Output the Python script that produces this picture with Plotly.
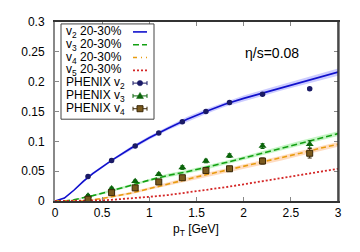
import plotly.graph_objects as go

# ---- model curves (eta/s = 0.08, 20-30%) ----
pt_model = [0.0, 0.1, 0.2, 0.3, 0.4, 0.5, 0.6, 0.8, 1.0, 1.2, 1.4, 1.6, 1.8, 2.0, 2.2, 2.4, 2.6, 2.8, 3.0]
v2_model = [0.0, 0.005, 0.018, 0.033, 0.046, 0.057, 0.068, 0.088, 0.106, 0.122, 0.137, 0.150, 0.162, 0.172, 0.181, 0.190, 0.199, 0.208, 0.216]
v2_err   = [0.0, 0.001, 0.001, 0.002, 0.002, 0.002, 0.002, 0.003, 0.003, 0.003, 0.004, 0.004, 0.004, 0.005, 0.005, 0.005, 0.006, 0.006, 0.006]
v3_model = [0.0, 0.0, 0.002, 0.005, 0.009, 0.013, 0.017, 0.026, 0.035, 0.043, 0.049, 0.056, 0.064, 0.072, 0.080, 0.088, 0.097, 0.105, 0.113]
v3_err   = [0.0, 0.0, 0.001, 0.001, 0.001, 0.002, 0.002, 0.002, 0.002, 0.003, 0.003, 0.003, 0.003, 0.003, 0.004, 0.004, 0.004, 0.004, 0.004]
v4_model = [0.0, 0.0, 0.0, 0.0, 0.002, 0.004, 0.007, 0.013, 0.021, 0.029, 0.037, 0.044, 0.051, 0.058, 0.065, 0.072, 0.080, 0.088, 0.095]
v4_err   = [0.0, 0.0, 0.0, 0.0, 0.001, 0.001, 0.002, 0.002, 0.002, 0.003, 0.003, 0.003, 0.003, 0.004, 0.004, 0.004, 0.004, 0.004, 0.004]
v5_model = [0.0, 0.0, 0.0, 0.0, 0.0, 0.001, 0.002, 0.004, 0.007, 0.010, 0.014, 0.018, 0.023, 0.028, 0.033, 0.038, 0.043, 0.049, 0.054]

# ---- PHENIX data ----
pt_data = [0.35, 0.6, 0.85, 1.1, 1.35, 1.6, 1.85, 2.2, 2.7]
v2_data = [0.041, 0.068, 0.092, 0.114, 0.133, 0.150, 0.165, 0.179, 0.188]
v2_derr = [0.002, 0.002, 0.002, 0.002, 0.002, 0.002, 0.002, 0.002, 0.002]
v3_data = [0.009, 0.021, 0.033, 0.045, 0.056, 0.067, 0.076, 0.092, 0.095]
v3_derr = [0.002, 0.002, 0.002, 0.002, 0.003, 0.003, 0.003, 0.004, 0.006]
v4_data = [0.003, 0.014, 0.022, 0.032, 0.039, 0.051, 0.054, 0.067, 0.080]
v4_derr = [0.002, 0.003, 0.003, 0.003, 0.003, 0.004, 0.004, 0.005, 0.008]

legend_labels = ["v<sub>2</sub> 20-30%", "v<sub>3</sub> 20-30%", "v<sub>4</sub> 20-30%", "v<sub>5</sub> 20-30%",
                 "PHENIX v<sub>2</sub>", "PHENIX v<sub>3</sub>", "PHENIX v<sub>4</sub>"]
x_ticks = [0, 0.5, 1, 1.5, 2, 2.5, 3]
x_ticklabels = ["0", "0.5", "1", "1.5", "2", "2.5", "3"]
y_ticks = [0, 0.05, 0.1, 0.15, 0.2, 0.25, 0.3]
y_ticklabels = ["0", "0.05", "0.1", "0.15", "0.2", "0.25", "0.3"]

BLUE = "#1010cc"
GREEN = "#13a013"
ORANGE = "#e89c10"
RED = "#d42626"
NAVY = "#1a1a66"
DGREEN = "#0b650b"
BROWN = "#7a5a1e"

fig = go.Figure()

def band(y, e, color):
    hi = [a + b for a, b in zip(y, e)]
    lo = [a - b for a, b in zip(y, e)]
    fig.add_trace(go.Scatter(x=pt_model + pt_model[::-1], y=hi + lo[::-1], fill="toself",
                             fillcolor=color, line=dict(width=0), mode="lines",
                             hoverinfo="skip", showlegend=False))

band(v2_model, v2_err, "rgba(110,110,255,0.35)")
band(v3_model, v3_err, "rgba(110,230,110,0.40)")
band(v4_model, v4_err, "rgba(255,185,130,0.50)")

fig.add_trace(go.Scatter(x=pt_model, y=v2_model, mode="lines", line=dict(color=BLUE, width=1.6), showlegend=False))
fig.add_trace(go.Scatter(x=pt_model, y=v3_model, mode="lines", line=dict(color=GREEN, width=1.6, dash="6px,3px"), showlegend=False))
fig.add_trace(go.Scatter(x=pt_model, y=v4_model, mode="lines", line=dict(color=ORANGE, width=1.6, dash="5px,3px"), showlegend=False))
fig.add_trace(go.Scatter(x=pt_model, y=v5_model, mode="lines", line=dict(color=RED, width=1.8, dash="2px,2px"), showlegend=False))

fig.add_trace(go.Scatter(x=pt_data, y=v2_data, mode="markers",
                         marker=dict(symbol="circle", size=5.5, color=NAVY),
                         error_y=dict(type="data", array=v2_derr, color=NAVY, thickness=1, width=2),
                         showlegend=False))
fig.add_trace(go.Scatter(x=pt_data, y=v3_data, mode="markers",
                         marker=dict(symbol="triangle-up", size=7, color=DGREEN),
                         error_y=dict(type="data", array=v3_derr, color=DGREEN, thickness=1, width=2),
                         showlegend=False))
fig.add_trace(go.Scatter(x=pt_data, y=v4_data, mode="markers",
                         marker=dict(symbol="square", size=6, color=BROWN, line=dict(color="#3a2808", width=1)),
                         error_y=dict(type="data", array=v4_derr, color="#3a2808", thickness=1, width=2),
                         showlegend=False))

# ---- layout geometry (viewport pixels; page body adds an 8px margin) ----
OFF = 8
PL, PT, PW, PH = 55, 15, 283, 186          # plot area in the viewport
W, H = 360 - OFF, 252 - OFF
L, T = PL - OFF, PT - OFF
R = W - L - PW
B = H - T - PH

def px_x(p):
    return (p - PL) / PW

def px_y(p):
    return (PT + PH - p) / PH

shapes = []
annotations = []

# legend box
shapes.append(dict(type="rect", xref="paper", yref="paper", x0=px_x(61), x1=px_x(154), y0=px_y(116), y1=px_y(17),
                   line=dict(color="#444", width=1), fillcolor="white", layer="above"))

row_y = [25.3 + 13.3 * i for i in range(7)]
sx0, sx1, sxc = px_x(133), px_x(147), px_x(140)
line_styles = [(BLUE, "solid", 1.6), (GREEN, "6px,3px", 1.6), (ORANGE, "4px,4px,1px,4px", 1.6), (RED, "2px,2px", 1.8)]
for i, lab in enumerate(legend_labels):
    yy = px_y(row_y[i])
    annotations.append(dict(x=px_x(64), y=yy, xref="paper", yref="paper", text=lab, showarrow=False,
                            xanchor="left", yanchor="middle",
                            font=dict(size=12, color="black")))
    if i < 4:
        c, d, w = line_styles[i]
        shapes.append(dict(type="line", xref="paper", yref="paper", x0=sx0, x1=sx1, y0=yy, y1=yy,
                           line=dict(color=c, width=w, dash=d), layer="above"))
    else:
        c = [NAVY, DGREEN, "#3a2808"][i - 4]
        fc = [NAVY, DGREEN, BROWN][i - 4]
        shapes.append(dict(type="line", xref="paper", yref="paper", x0=sx0, x1=sx1, y0=yy, y1=yy,
                           line=dict(color=c, width=1), layer="above"))
        for xe in (sx0, sx1):
            shapes.append(dict(type="line", xref="paper", yref="paper", xsizemode="pixel", ysizemode="pixel",
                               xanchor=xe, yanchor=yy, x0=0, x1=0, y0=-2, y1=2,
                               line=dict(color=c, width=1), layer="above"))
        if i == 4:
            shapes.append(dict(type="circle", xref="paper", yref="paper", xsizemode="pixel", ysizemode="pixel",
                               xanchor=sxc, yanchor=yy, x0=-2.7, x1=2.7, y0=-2.7, y1=2.7,
                               fillcolor=fc, line=dict(color=c, width=0.5), layer="above"))
        elif i == 5:
            shapes.append(dict(type="path", xref="paper", yref="paper", xsizemode="pixel", ysizemode="pixel",
                               xanchor=sxc, yanchor=yy, path="M -3.5 -2.5 L 3.5 -2.5 L 0 3.5 Z",
                               fillcolor=fc, line=dict(color=c, width=0.5), layer="above"))
        else:
            shapes.append(dict(type="rect", xref="paper", yref="paper", xsizemode="pixel", ysizemode="pixel",
                               xanchor=sxc, yanchor=yy, x0=-3, x1=3, y0=-3, y1=3,
                               fillcolor=fc, line=dict(color=c, width=1), layer="above"))

# right frame border (dark)
shapes.append(dict(type="line", xref="paper", yref="paper", x0=1, x1=1, y0=0, y1=1,
                   line=dict(color="#333", width=1.5), layer="above"))

annotations.append(dict(x=px_x(272), y=px_y(47), xref="paper", yref="paper", text="η/s=0.08",
                        showarrow=False, xanchor="center", yanchor="middle", font=dict(size=14, color="black")))

# x-axis title
annotations.append(dict(x=px_x(196), y=px_y(231), xref="paper", yref="paper", text="p<sub>T</sub> [GeV]",
                        showarrow=False, xanchor="center", yanchor="middle", font=dict(size=12, color="black")))

fig.update_layout(
    width=W, height=H,
    margin=dict(l=L, r=R, t=T, b=B, pad=0),
    paper_bgcolor="white", plot_bgcolor="white",
    font=dict(family="Liberation Sans, Arial, sans-serif", size=12, color="black"),
    showlegend=False,
    shapes=shapes, annotations=annotations,
    xaxis=dict(range=[0, 3], tickvals=x_ticks, ticktext=x_ticklabels, ticks="inside", ticklen=4,
               tickcolor="#888", mirror="ticks", showline=True, linecolor="#333", linewidth=1.5,
               showgrid=False, zeroline=False, ticklabelstandoff=0),
    yaxis=dict(range=[0, 0.3], tickvals=y_ticks, ticktext=y_ticklabels, ticks="inside", ticklen=4,
               tickcolor="#888", mirror="ticks", showline=True, linecolor="#888", linewidth=2,
               showgrid=False, zeroline=False, ticklabelstandoff=6),
)

fig.write_html("out.html")
